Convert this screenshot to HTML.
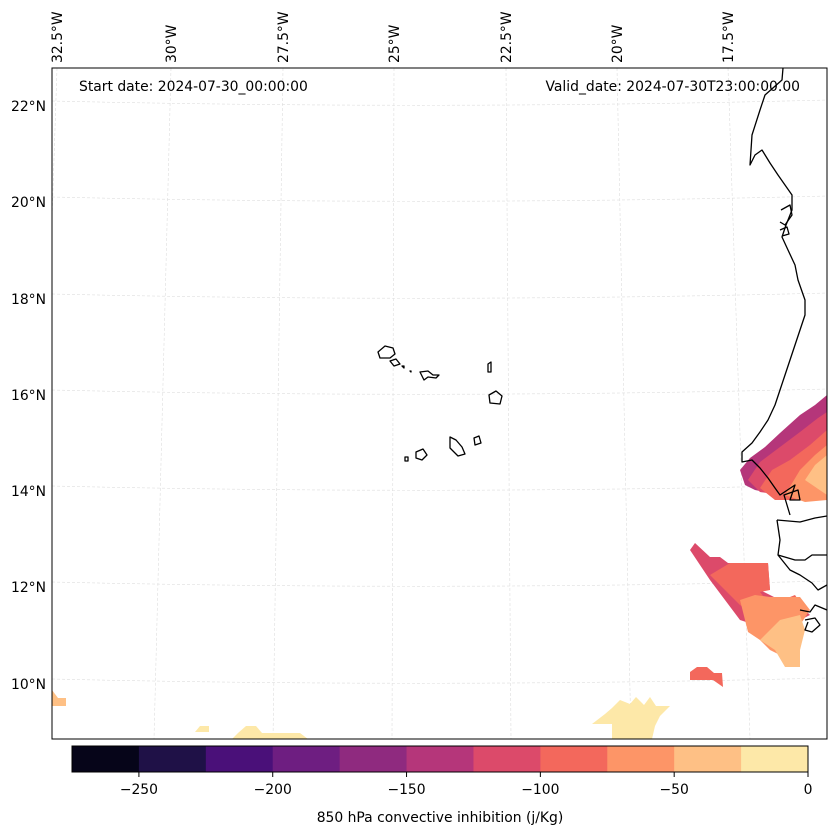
<!DOCTYPE html>
<html><head><meta charset="utf-8"><style>
body{margin:0;background:#fff;width:837px;height:836px;overflow:hidden;font-family:"DejaVu Sans",sans-serif}
svg{display:block}
</style></head><body>
<svg id="chart" width="837" height="836" viewBox="0 0 837 836" xmlns="http://www.w3.org/2000/svg" font-family="DejaVu Sans, sans-serif">
<defs><clipPath id="mapclip"><rect x="52" y="68" width="775" height="671"/></clipPath></defs>
<g id="grid" clip-path="url(#mapclip)"></g>
<g id="fills" clip-path="url(#mapclip)"></g>
<g id="coast" clip-path="url(#mapclip)" fill="none" stroke="#000" stroke-width="1.3" stroke-linejoin="round"></g>
<rect x="52" y="68" width="775" height="671" fill="none" stroke="#000" stroke-width="1"/>
<g id="labels"></g>
<text x="79" y="91" font-size="13.9">Start date: 2024-07-30_00:00:00</text>
<text x="800" y="91" font-size="13.9" text-anchor="end">Valid_date: 2024-07-30T23:00:00.00</text>
<g id="cbar"></g>
<text x="440" y="822" font-size="13.9" text-anchor="middle">850 hPa convective inhibition (j/Kg)</text>
</svg>
<script>
const levels=[-275,-250,-225,-200,-175,-150,-125,-100,-75,-50,-25,0];
const levelColors=["#060519","#1f1147","#4a1079","#6e1e81","#8f2a7f","#b5367a","#dc4a6a","#f3685c","#fd9567","#fec085","#fde8a8"];
const cbarTicks=[-250,-200,-150,-100,-50,0];
const latLabels=["22°N","20°N","18°N","16°N","14°N","12°N","10°N"];
const latY=[106,202,299,395,491,587,684];
const lonLabels=["32.5°W","30°W","27.5°W","25°W","22.5°W","20°W","17.5°W"];
const lonTopX=[57,171,283,394,506,617,728];
const lonBotX=[35,154,273,392,511,631,750];
// filled regions: [value level index, polygon points]
const regions=[
 [10,"592,724 605,714 612,708 620,700 630,704 636,697 644,705 650,697 656,706 670,706 660,716 655,726 652,739 612,739 612,724"],
 [10,"232,739 238,733 246,726 256,726 262,733 300,733 308,739"],
 [10,"195,732 200,726 209,726 209,732"],
 [9,"52,690 58,698 66,698 66,706 52,706"],
 [5,"740,470 750,458 765,447 780,433 800,415 815,405 827,395 827,470 800,480 790,490 770,493 755,490 745,485"],
 [6,"748,480 760,462 780,447 800,432 818,418 827,412 827,480 800,492 780,495 760,492"],
 [7,"760,488 772,470 790,460 810,445 827,430 827,490 808,498 790,500 775,500"],
 [8,"785,495 800,470 815,455 827,445 827,500 805,502"],
 [9,"805,480 815,465 827,455 827,495"],
 [6,"690,550 695,543 710,557 720,557 728,563 738,563 768,563 770,590 760,590 780,600 800,605 810,615 790,625 770,630 740,620 725,600 710,580 700,565"],
 [7,"710,575 730,563 768,563 770,590 760,592 770,605 795,595 805,610 800,625 775,630 755,615 740,605 725,590"],
 [8,"740,600 755,595 770,597 800,597 810,610 800,625 800,650 790,660 770,650 760,640 748,632"],
 [9,"760,640 780,620 800,615 805,630 800,650 800,667 785,667 775,650"],
 [7,"690,672 697,667 707,667 714,673 722,673 723,687 713,680 700,680 690,680"]
];
const coastLines=[
 "783,68 782,80 765,95 760,110 752,135 750,165 755,155 762,150 770,163 778,175 785,185 792,195 792,210 786,225 782,237 788,250 795,265 798,280 805,300 805,315 800,330 795,345 790,360 785,375 780,390 775,405 768,420 760,432 752,443 742,452 742,462 752,460 760,468 768,478 775,488 780,495 795,485 790,500 800,500 798,490 784,495 790,515",
 "777,520 800,522 815,518 827,516",
 "777,520 780,540 778,555 795,560 805,560 812,555 827,555",
 "778,555 790,570 800,575 812,583 818,590 827,585",
 "800,610 810,612 815,605 827,610",
 "805,620 815,618 820,625 812,632 805,630 808,622",
 "781,210 790,205 792,215 785,225 780,222",
 "780,230 787,227 789,234 782,236"
];
const islands=[
 "378,352 385,346 393,348 395,354 390,358 380,358","390,361 396,359 400,364 394,366","420,372 428,371 433,375 439,375 436,378 428,377 424,380","488,364 491,362 491,372 488,372","489,395 496,391 502,396 500,404 490,403","405,457 408,457 408,461 405,461","416,452 423,449 427,455 422,460 416,458","450,437 456,440 462,447 465,454 458,456 450,448","474,438 479,436 481,443 475,445","402,366 404,366 404,368","410,371 411,371 411,372"
];
const NS='http://www.w3.org/2000/svg';
function mk(tag,attrs,parent){const e=document.createElementNS(NS,tag);for(const k in attrs)e.setAttribute(k,attrs[k]);parent.appendChild(e);return e;}
const cbX0=72,cbX1=808;
function cx(v){return cbX0+(v-levels[0])/(levels[levels.length-1]-levels[0])*(cbX1-cbX0);}
function colorFor(i){return levelColors[i];}
const grid=document.getElementById('grid');
latY.forEach((y,i)=>{const p=mk('path',{d:`M52,${y-5} Q440,${y+4} 827,${y-6}`,fill:'none',stroke:'#ddd','stroke-width':0.6,'stroke-dasharray':'3,2'},grid);

});
lonTopX.forEach((x,i)=>{const p=mk('line',{x1:x,y1:68,x2:lonBotX[i],y2:739,stroke:'#ddd','stroke-width':0.6,'stroke-dasharray':'3,2'},grid);

});
const fills=document.getElementById('fills');
regions.forEach(r=>{const p=mk('polygon',{points:r[1],fill:colorFor(r[0])},fills);

});
const coast=document.getElementById('coast');
coastLines.forEach(c=>{const p=mk('polyline',{points:c},coast);

});
islands.forEach(c=>{const p=mk('polygon',{points:c},coast);

});
const labels=document.getElementById('labels');
latLabels.forEach((t,i)=>{const e=mk('text',{x:46,y:latY[i]+5,'font-size':13.9,'text-anchor':'end'},labels);e.textContent=t;

});
lonLabels.forEach((t,i)=>{const x=lonTopX[i]+5;const e=mk('text',{x:x,y:63,'font-size':13.9,transform:`rotate(-90 ${x} 63)`},labels);e.textContent=t;

});
const cb=document.getElementById('cbar');
for(let i=0;i<levelColors.length;i++){const r=mk('rect',{x:cx(levels[i]),y:746,width:cx(levels[i+1])-cx(levels[i])+0.5,height:26,fill:levelColors[i]},cb);

}
mk('rect',{x:cbX0,y:746,width:cbX1-cbX0,height:26,fill:'none',stroke:'#000','stroke-width':1},cb);
cbarTicks.forEach(v=>{const x=cx(v);mk('line',{x1:x,y1:772,x2:x,y2:777,stroke:'#000'},cb);
const t=mk('text',{x:x,y:794,'font-size':13.9,'text-anchor':'middle'},cb);t.textContent=(v<0?'\u2212'+(-v):v);

});
</script>
</body></html>
